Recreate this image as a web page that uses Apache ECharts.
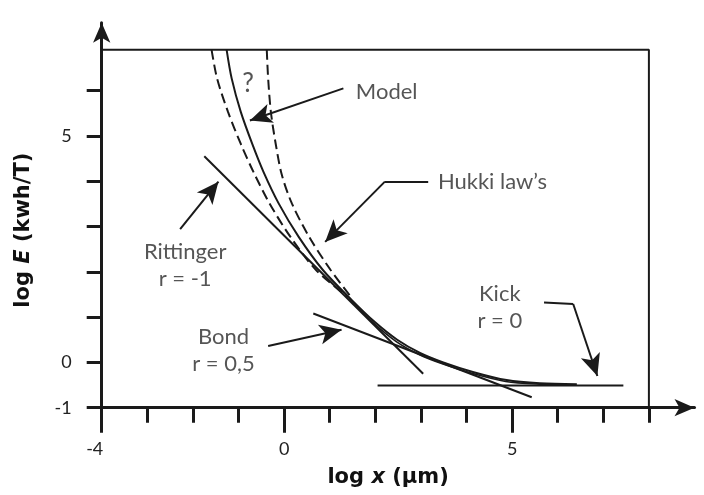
<!DOCTYPE html>
<html>
<head>
<meta charset="utf-8">
<script src="https://cdn.jsdelivr.net/npm/echarts@6/dist/echarts.min.js"></script>
<style>
html, body { margin: 0; padding: 0; background: #fff; }
#main { width: 704px; height: 495px; }
</style>
</head>
<body>
<div id="main"></div>
<script>
// axis ticks and labels
var xTicks = [-3, -2, -1, 1, 2, 3, 4, 6, 7, 8];
var xLongTicks = [-4, 0, 5];
var xLabels = [-4, 0, 5];
var yTicks = [-1, 0, 1, 2, 3, 4, 5, 6];
var yLabels = [-1, 0, 5];

// curves (log x, log E)
var hukkiLow = [[-1.59, 6.90], [-1.47, 6.27], [-1.23, 5.53], [-0.94, 4.80], [-0.67, 4.20],
	[-0.32, 3.51], [0.14, 2.77], [0.70, 2.04], [1.40, 1.44]];
var hukkiHigh = [[-0.38, 6.90], [-0.35, 6.27], [-0.29, 5.53], [-0.18, 4.80], [-0.05, 4.14],
	[0.17, 3.51], [0.55, 2.77], [1.02, 2.04], [1.50, 1.40]];
var model = [[-1.26, 6.90], [-1.15, 6.27], [-0.95, 5.53], [-0.69, 4.80], [-0.45, 4.20],
	[-0.12, 3.51], [0.32, 2.77], [0.85, 2.04], [1.48, 1.38], [1.99, 0.89], [2.48, 0.50],
	[2.98, 0.21], [3.49, 0.00], [4.14, -0.21], [4.88, -0.39], [5.61, -0.46], [6.42, -0.48]];
var hukkiTail = [[1.42, 1.42], [1.97, 0.86], [2.46, 0.46], [2.97, 0.17], [3.47, -0.03],
	[4.12, -0.24], [4.86, -0.42], [5.60, -0.48], [6.20, -0.49]];
var rittinger = [[-1.75, 4.55], [3.05, -0.25]];
var bond = [[0.64, 1.08], [5.43, -0.77]];
var kick = [[2.05, -0.51], [7.44, -0.51]];
var frame = [[-4, 6.9], [8, 6.9], [8, -1]];

// annotations
var arrows = [
	[[1.30, 6.05], [-0.75, 5.34]],
	[[2.21, 3.99], [0.90, 2.66]],
	[[-2.28, 2.94], [-1.44, 3.99]],
	[[-0.35, 0.36], [1.26, 0.72]],
	[[6.34, 1.29], [6.87, -0.30]]
];
var leaders = [
	[[3.16, 3.99], [2.21, 3.99]],
	[[5.70, 1.32], [6.34, 1.29]]
];
var notes = [
	{ name: '?', value: [-0.79, 6.16], label: { fontSize: 26 } },
	{ name: 'Model', value: [2.25, 5.98] },
	{ name: 'Hukki law\u2019s', value: [4.57, 3.99] },
	{ name: 'Rittinger\nr = -1', value: [-2.17, 2.15] },
	{ name: 'Bond\nr = 0,5', value: [-1.33, 0.27] },
	{ name: 'Kick\nr = 0', value: [4.73, 1.21] }
];

var FONT = 'Lato';
var TITLE_FONT = 'DejaVu Sans';
var INK = '#1a1a1a';

function seg(pair) {
	return [{ coord: pair[0] }, { coord: pair[1] }];
}

function curve(name, data, dashed, width) {
	return {
		name: name,
		type: 'line',
		data: data,
		smooth: 0.3,
		showSymbol: false,
		silent: true,
		lineStyle: { color: INK, width: width || 2, type: dashed ? [10, 5] : 'solid' }
	};
}

function titleStyle(shift) {
	return {
		fontFamily: TITLE_FONT,
		fontSize: 21,
		fontWeight: 'bold',
		color: '#111',
		padding: [0, shift, 0, 0],
		rich: {
			i: { fontFamily: TITLE_FONT, fontSize: 21, fontWeight: 'bold', fontStyle: 'italic', color: '#111' }
		}
	};
}

var dom = document.getElementById('main');
var myChart = echarts.init(dom, null, { renderer: 'canvas' });

var option = {
	animation: false,
	backgroundColor: '#fff',
	grid: { left: 101.7, right: 9.5, top: 22.65, bottom: 87.3 },
	xAxis: [{
		type: 'value',
		position: 'bottom',
		min: -4,
		max: 9,
		axisLine: {
			onZero: false,
			symbol: ['none', 'arrow'],
			symbolSize: [13, 20],
			lineStyle: { color: INK, width: 3 }
		},
		axisTick: { show: true, customValues: xTicks, length: 15, lineStyle: { color: INK, width: 3 } },
		axisLabel: { show: false },
		splitLine: { show: false }
	}, {
		type: 'value',
		position: 'bottom',
		min: -4,
		max: 9,
		axisLine: { show: false, onZero: false },
		axisTick: { show: true, customValues: xLongTicks, length: 25, lineStyle: { color: INK, width: 3 } },
		axisLabel: {
			customValues: xLabels,
			margin: 32,
			fontFamily: FONT,
			fontSize: 18,
			color: '#222',
			formatter: function (v) {
				// "-4" sits a little left of its tick
				return v === -4 ? '{m|-4}' : String(v);
			},
			rich: {
				m: { fontFamily: FONT, fontSize: 18, color: '#222', padding: [0, 14, 0, 0] }
			}
		},
		splitLine: { show: false },
		name: 'log {i|x} (\u00b5m)',
		nameLocation: 'middle',
		nameGap: 59,
		nameTextStyle: titleStyle(20)
	}],
	yAxis: {
		type: 'value',
		min: -1,
		max: 7.5,
		axisLine: {
			onZero: false,
			symbol: ['none', 'arrow'],
			symbolSize: [13, 20],
			lineStyle: { color: INK, width: 3 }
		},
		axisTick: { show: true, customValues: yTicks, length: 15, lineStyle: { color: INK, width: 3 } },
		axisLabel: {
			customValues: yLabels,
			margin: 30,
			fontFamily: FONT,
			fontSize: 18,
			color: '#222'
		},
		splitLine: { show: false },
		name: 'log {i|E} (kwh/T)',
		nameLocation: 'middle',
		nameGap: 68,
		nameTextStyle: titleStyle(30)
	},
	series: [
		curve('frame', frame, false, 2),
		curve('hukkiLow', hukkiLow, true),
		curve('hukkiHigh', hukkiHigh, true),
		curve('model', model, false),
		curve('hukkiTail', hukkiTail, false, 1.6),
		curve('rittinger', rittinger, false),
		curve('bond', bond, false),
		curve('kick', kick, false),
		{
			name: 'notes',
			type: 'scatter',
			data: notes,
			symbolSize: 0,
			silent: true,
			label: {
				show: true,
				position: 'inside',
				formatter: '{b}',
				fontFamily: FONT,
				fontSize: 22,
				lineHeight: 27,
				color: '#2a2a2a',
				align: 'center',
				verticalAlign: 'middle'
			},
			markLine: {
				silent: true,
				symbol: ['none', 'arrow'],
				symbolSize: [15, 22],
				label: { show: false },
				lineStyle: { color: INK, width: 2, type: 'solid' },
				data: arrows.map(seg).concat(leaders.map(function (p) {
					var s = seg(p);
					s[1].symbol = 'none';
					return s;
				}))
			}
		}
	]
};

// frame is a straight polyline
option.series[0].smooth = false;

if (option && typeof option === 'object') {
	myChart.setOption(option, true);
}
</script>
</body>
</html>
